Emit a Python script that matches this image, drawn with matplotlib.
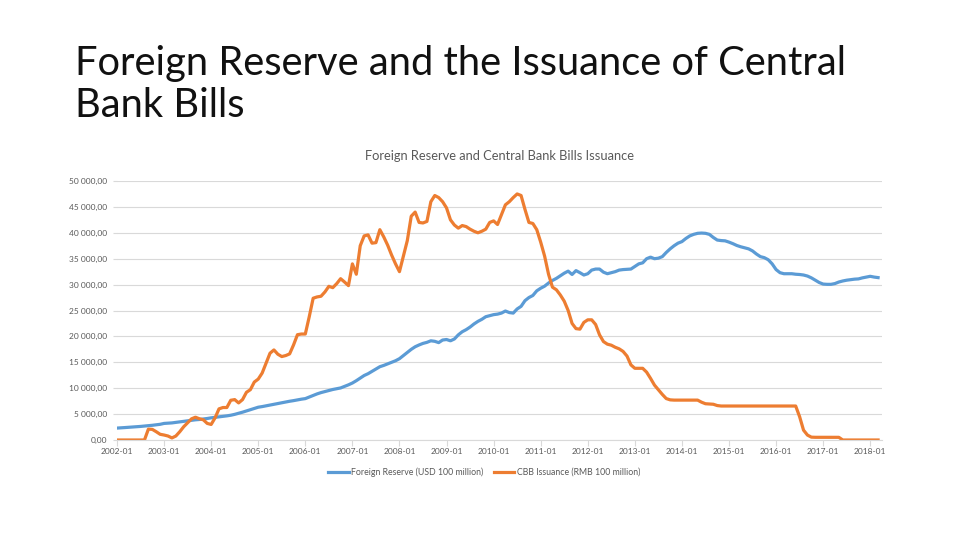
import matplotlib
matplotlib.use("Agg")
import matplotlib.pyplot as plt
from matplotlib.ticker import FuncFormatter

# monthly values, 2002-01 .. 2018-03
years = list(range(2002, 2019))
tick_labels = [f"{y}-01" for y in years]

reserve = [
    # 2002
    2300, 2340, 2400, 2450, 2500, 2560, 2620, 2690, 2760, 2840, 2930, 3030,
    # 2003
    3200, 3250, 3300, 3400, 3520, 3620, 3700, 3800, 3900, 3960, 4050, 4150,
    # 2004
    4280, 4370, 4460, 4560, 4660, 4780, 4950, 5150, 5370, 5600, 5850, 6100,
    # 2005
    6330, 6450, 6600, 6750, 6900, 7050, 7200, 7350, 7480, 7600, 7750, 7880,
    # 2006
    7990, 8300, 8600, 8900, 9150, 9350, 9550, 9750, 9900, 10050, 10350, 10650,
    # 2007
    11000, 11450, 11950, 12450, 12800, 13250, 13700, 14150, 14400, 14700, 15000, 15300,
    # 2008
    15700, 16300, 16900, 17500, 18000, 18350, 18650, 18850, 19150, 19050, 18800, 19300,
    # 2009
    19400, 19150, 19500, 20300, 20900, 21300, 21800, 22400, 22900, 23300, 23800, 24000,
    # 2010
    24200, 24300, 24500, 24900, 24600, 24500, 25300, 25800, 26900, 27500, 27900, 28800,
    # 2011
    29300, 29700, 30300, 30800, 31200, 31700, 32200, 32600, 31950, 32700, 32300, 31850,
    # 2012
    32100, 32800, 33000, 33000, 32400, 32100, 32300, 32500, 32800, 32900, 32950, 33000,
    # 2013
    33500, 34000, 34200, 35000, 35300, 35000, 35100, 35400, 36200, 36900, 37500, 38000,
    # 2014
    38300, 38900, 39400, 39700, 39900, 39950, 39900, 39700, 39100, 38600, 38500, 38450,
    # 2015
    38200, 37900, 37550, 37300, 37100, 36900, 36500, 35900, 35400, 35200, 34800, 34000,
    # 2016
    32900, 32300, 32100, 32100, 32100, 32000, 31950, 31850, 31650, 31300, 30850, 30400,
    # 2017
    30100, 30050, 30050, 30200, 30500, 30700, 30850, 30950, 31050, 31100, 31300, 31450,
    # 2018
    31600, 31450, 31350,
]

cbb = [
    # 2002
    0, 0, 0, 0, 0, 0, 0, 0, 2100, 2050, 1600, 1100,
    # 2003
    960, 770, 400, 770, 1600, 2560, 3320, 4090, 4400, 4100, 3900, 3200,
    # 2004
    3000, 4280, 6010, 6270, 6270, 7670, 7800, 7160, 7800, 9210, 9720, 11190,
    # 2005
    11760, 12920, 14830, 16750, 17390, 16560, 16110, 16300, 16620, 18350, 20330, 20460,
    # 2006
    20460, 23790, 27370, 27620, 27750, 28580, 29670, 29410, 30180, 31140, 30500, 29800,
    # 2007
    34000, 32000, 37500, 39400, 39600, 38000, 38100, 40600, 39200, 37600, 35700, 34000,
    # 2008
    32500, 35500, 38500, 43200, 44000, 42000, 41900, 42200, 46000, 47200, 46800, 46000,
    # 2009
    44800, 42500, 41500, 40900, 41400, 41200, 40700, 40300, 40000, 40300, 40700, 42000,
    # 2010
    42300, 41600, 43500, 45400, 46000, 46800, 47500, 47200, 44500, 42000, 41800, 40600,
    # 2011
    38200, 35500, 32000, 29500, 29000, 28000, 26800, 25000, 22500, 21500, 21400, 22700,
    # 2012
    23200, 23200, 22300, 20300, 19000, 18500, 18300, 17900, 17600, 17100, 16200, 14500,
    # 2013
    13840, 13840, 13840, 13100, 11900, 10600, 9700, 8800, 8000, 7750, 7700, 7700,
    # 2014
    7720, 7720, 7720, 7720, 7700, 7300, 7000, 6950, 6900, 6650, 6560, 6560,
    # 2015
    6560, 6560, 6560, 6560, 6560, 6560, 6560, 6560, 6560, 6560, 6560, 6560,
    # 2016
    6560, 6560, 6560, 6560, 6560, 6560, 4500, 1900, 950, 550, 520, 520,
    # 2017
    515, 515, 515, 515, 515, 0, 0, 0, 0, 0, 0, 0,
    # 2018
    0, 0, 0,
]

series_names = ["Foreign Reserve (USD 100 million)", "CBB Issuance (RMB 100 million)"]

FONT = ["Lato", "DejaVu Sans"]
GREY = "#595959"
GRID = "#d9d9d9"

plt.rcParams["font.family"] = FONT

fig = plt.figure(figsize=(9.6, 5.4), dpi=100)
# slide title, two lines placed by baseline
fig.text(75 / 960, 1 - 75 / 540, "Foreign Reserve and the Issuance of Central",
         fontsize=28.7, fontweight="normal", color="#111111", ha="left", va="baseline")
fig.text(75 / 960, 1 - 117 / 540, "Bank Bills",
         fontsize=28.7, fontweight="normal", color="#111111", ha="left", va="baseline")

ax = fig.add_axes([117 / 960, 100 / 540, 765 / 960, 259 / 540])

months = list(range(len(reserve)))
ax.plot(months, reserve, color="#5B9BD5", lw=2.3, label=series_names[0], solid_joinstyle="round")
ax.plot(months, cbb, color="#ED7D31", lw=2.3, label=series_names[1], solid_joinstyle="round")

ax.set_xlim(0, 195)
ax.set_ylim(0, 50000)
ax.set_yticks(range(0, 50001, 5000))
ax.yaxis.set_major_formatter(FuncFormatter(lambda v, p: f"{v:,.2f}".replace(",", " ").replace(".", ",")))
ax.set_xticks(range(0, len(reserve), 12))
ax.set_xticklabels(tick_labels)

ax.grid(axis="y", color=GRID, lw=0.8)
ax.set_axisbelow(True)
for s in ["top", "right", "left"]:
    ax.spines[s].set_visible(False)
ax.spines["bottom"].set_color(GRID)
ax.tick_params(axis="x", colors=GRID, length=4, labelcolor=GREY, labelsize=6, pad=2)
ax.tick_params(axis="y", colors=GRID, length=3, labelcolor=GREY, labelsize=6, pad=4)

ax.set_title("Foreign Reserve and Central Bank Bills Issuance", fontsize=9.3, color=GREY, pad=15)

ax.legend(loc="upper center", bbox_to_anchor=(0.48, -0.075), ncol=2, frameon=False,
          fontsize=6.3, labelcolor=GREY, handlelength=2.3, handletextpad=0.3, columnspacing=1.2)

fig.savefig("out.png", dpi=100)
